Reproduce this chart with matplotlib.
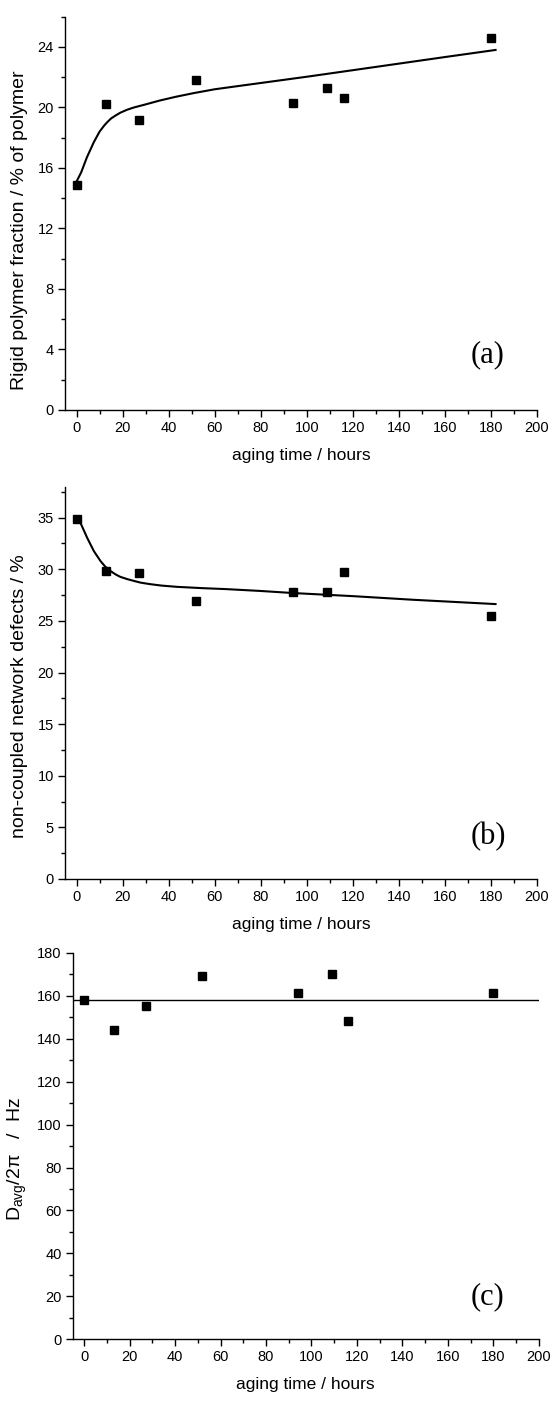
import numpy as np
import matplotlib
matplotlib.use('Agg')
import matplotlib.pyplot as plt
from matplotlib.ticker import MultipleLocator

plt.rcParams['font.family'] = ['Liberation Sans', 'DejaVu Sans']
plt.rcParams['mathtext.fontset'] = 'custom'
plt.rcParams['mathtext.rm'] = 'Liberation Sans'

# aging time of the samples, hours
hours = [0, 13, 27, 52, 94, 109, 116, 180]

# (a) rigid polymer fraction
rigid = [14.9, 20.2, 19.2, 21.8, 20.3, 21.3, 20.6, 24.6]
fit_a_x = [0, 2, 4.5, 7.5, 10, 12, 13.5, 15, 17, 19, 22, 25, 30, 36, 43, 51, 60, 72, 88, 101, 131, 160, 182]
fit_a_y = [15.1, 15.7, 16.7, 17.7, 18.4, 18.8, 19.05, 19.27, 19.47, 19.65, 19.85, 20.0, 20.2, 20.45, 20.7, 20.95, 21.2, 21.45, 21.78, 22.05, 22.7, 23.33, 23.8]

# (b) non-coupled network defects
defects = [34.9, 29.8, 29.6, 26.9, 27.8, 27.8, 29.7, 25.5]
fit_b_x = [0, 1.7, 4.6, 7.5, 10.4, 12.5, 14.7, 17, 19, 22, 24.8, 28, 32, 37, 43.6, 55, 65, 80, 94, 120, 146, 182]
fit_b_y = [34.9, 34.5, 33.06, 31.77, 30.8, 30.25, 29.84, 29.5, 29.27, 29.05, 28.88, 28.7, 28.56, 28.42, 28.3, 28.17, 28.08, 27.9, 27.7, 27.4, 27.05, 26.63]

# (c) average dipolar coupling
dres = [158, 144, 155, 169, 161, 170, 148, 161]
dres_mean = 158

fig = plt.figure(figsize=(5.52, 14.01), dpi=100)
ax1 = fig.add_axes([0.1178, 0.7074, 0.855, 0.2807])
ax2 = fig.add_axes([0.1178, 0.3726, 0.855, 0.2800])
ax3 = fig.add_axes([0.1321, 0.0440, 0.8438, 0.2760])


def style(ax, ymax, ymaj, ymin):
    ax.set_xlim(-5, 200)
    ax.set_ylim(0, ymax)
    ax.spines['top'].set_visible(False)
    ax.spines['right'].set_visible(False)
    ax.xaxis.set_major_locator(MultipleLocator(20))
    ax.xaxis.set_minor_locator(MultipleLocator(10))
    ax.yaxis.set_major_locator(MultipleLocator(ymaj))
    ax.yaxis.set_minor_locator(MultipleLocator(ymin))
    ax.tick_params(which='major', direction='out', length=5, width=1, labelsize=10.5, pad=3)
    ax.tick_params(which='minor', direction='out', length=3, width=1)
    for s in ['left', 'bottom']:
        ax.spines[s].set_linewidth(1)
    ax.set_xlabel('aging time / hours', fontsize=12.5, labelpad=9)


ax1.plot(fit_a_x, fit_a_y, color='black', lw=1.5)
ax1.plot(hours, rigid, 's', color='black', ms=6)
style(ax1, 26, 4, 2)
ax1.set_ylabel('Rigid polymer fraction / % of polymer', fontsize=14)
ax1.yaxis.set_label_coords(-0.078, 0.458)
ax1.text(0.895, 0.14, '(a)', transform=ax1.transAxes, ha='center', va='center',
         fontsize=22, family='Liberation Serif')

ax2.plot(fit_b_x, fit_b_y, color='black', lw=1.5)
ax2.plot(hours, defects, 's', color='black', ms=6)
style(ax2, 38, 5, 2.5)
ax2.set_ylabel('non-coupled network defects / %', fontsize=14)
ax2.yaxis.set_label_coords(-0.078, 0.466)
ax2.text(0.896, 0.108, '(b)', transform=ax2.transAxes, ha='center', va='center',
         fontsize=22, family='Liberation Serif')

ax3.axhline(dres_mean, color='black', lw=1)
ax3.plot(hours, dres, 's', color='black', ms=6)
style(ax3, 180, 20, 10)
ax3.set_ylabel(r'D$_{\mathrm{avg}}$/2π   /  Hz', fontsize=14)
ax3.yaxis.set_label_coords(-0.095, 0.466)
ax3.text(0.89, 0.11, '(c)', transform=ax3.transAxes, ha='center', va='center',
         fontsize=22, family='Liberation Serif')

fig.savefig('out.png', dpi=100)
